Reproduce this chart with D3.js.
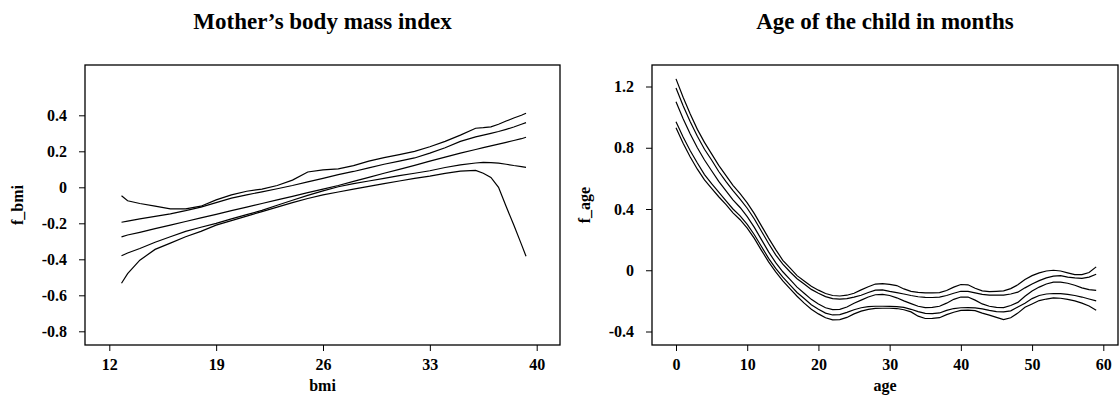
<!DOCTYPE html>
<html>
<head>
<meta charset="utf-8">
<script src="https://cdn.jsdelivr.net/npm/d3@7"></script>
<style>
  body { margin: 0; background: #fff; }
  svg text { font-family: "Liberation Serif", "Times New Roman", serif; font-weight: bold; fill: #000; }
</style>
</head>
<body>
<svg id="chart" width="1119" height="397"></svg>
<script>
// Left panel: mother's bmi (posterior mean with 80% and 95% bands)
const bmiGrid = [12.8, 13.2, 14, 15, 16, 17, 18, 19, 20, 21, 22, 23, 24, 25, 26, 27, 28, 29, 30, 31, 32, 33, 34, 35, 36, 36.5, 37, 37.5, 38, 38.5, 39, 39.3];
const bmiUpper95 = [-0.047, -0.075, -0.09, -0.105, -0.12, -0.12, -0.105, -0.07, -0.042, -0.022, -0.01, 0.01, 0.04, 0.085, 0.097, 0.102, 0.12, 0.145, 0.165, 0.182, 0.2, 0.225, 0.255, 0.29, 0.328, 0.331, 0.336, 0.35, 0.368, 0.385, 0.4, 0.411];
const bmiUpper80 = [-0.194, -0.188, -0.175, -0.162, -0.148, -0.13, -0.11, -0.085, -0.06, -0.042, -0.025, -0.008, 0.01, 0.03, 0.05, 0.07, 0.088, 0.108, 0.128, 0.145, 0.163, 0.19, 0.22, 0.255, 0.28, 0.29, 0.3, 0.31, 0.322, 0.335, 0.35, 0.359];
const bmiMean = [-0.275, -0.265, -0.25, -0.23, -0.21, -0.19, -0.17, -0.15, -0.13, -0.11, -0.09, -0.07, -0.05, -0.03, -0.01, 0.01, 0.033, 0.055, 0.078, 0.1, 0.122, 0.145, 0.168, 0.19, 0.21, 0.22, 0.23, 0.24, 0.25, 0.26, 0.27, 0.278];
const bmiLower80 = [-0.38, -0.365, -0.34, -0.305, -0.275, -0.245, -0.222, -0.2, -0.175, -0.152, -0.128, -0.1, -0.072, -0.045, -0.02, 0.003, 0.02, 0.035, 0.05, 0.065, 0.078, 0.092, 0.11, 0.125, 0.135, 0.138, 0.137, 0.134, 0.128, 0.121, 0.115, 0.111];
const bmiLower95 = [-0.533, -0.48, -0.405, -0.345, -0.31, -0.275, -0.245, -0.21, -0.185, -0.16, -0.135, -0.11, -0.085, -0.062, -0.042, -0.026, -0.01, 0.005, 0.02, 0.035, 0.05, 0.062, 0.077, 0.09, 0.094, 0.078, 0.055, 0.0, -0.107, -0.21, -0.317, -0.383];
const bmiTicks = [12, 19, 26, 33, 40];
const fbmiTicks = [0.4, 0.2, 0, -0.2, -0.4, -0.6, -0.8];

// Right panel: age of the child in months
const ageGrid = d3.range(0, 60);
const ageUpper95 = [1.25, 1.13, 1.02, 0.92, 0.835, 0.76, 0.685, 0.62, 0.555, 0.5, 0.44, 0.37, 0.29, 0.21, 0.135, 0.065, 0.015, -0.035, -0.07, -0.105, -0.13, -0.152, -0.165, -0.168, -0.163, -0.15, -0.128, -0.108, -0.09, -0.087, -0.092, -0.1, -0.122, -0.138, -0.145, -0.148, -0.148, -0.146, -0.132, -0.11, -0.093, -0.095, -0.118, -0.135, -0.14, -0.138, -0.135, -0.12, -0.095, -0.06, -0.035, -0.017, -0.005, 0.0, -0.005, -0.017, -0.028, -0.028, -0.015, 0.022];
const ageUpper80 = [1.19, 1.075, 0.97, 0.875, 0.79, 0.72, 0.645, 0.58, 0.52, 0.465, 0.405, 0.335, 0.255, 0.175, 0.1, 0.04, -0.01, -0.055, -0.09, -0.125, -0.15, -0.172, -0.185, -0.188, -0.185, -0.175, -0.163, -0.145, -0.13, -0.128, -0.138, -0.146, -0.155, -0.165, -0.173, -0.177, -0.178, -0.175, -0.165, -0.15, -0.137, -0.138, -0.148, -0.158, -0.163, -0.163, -0.163, -0.155, -0.143, -0.115, -0.09, -0.068, -0.05, -0.038, -0.035, -0.045, -0.05, -0.053, -0.045, -0.026];
const ageMean = [1.10, 0.99, 0.89, 0.80, 0.72, 0.65, 0.58, 0.52, 0.46, 0.41, 0.35, 0.28, 0.20, 0.12, 0.05, -0.01, -0.06, -0.11, -0.15, -0.19, -0.22, -0.245, -0.257, -0.255, -0.24, -0.215, -0.195, -0.175, -0.16, -0.157, -0.165, -0.18, -0.2, -0.218, -0.235, -0.244, -0.243, -0.235, -0.215, -0.19, -0.175, -0.175, -0.195, -0.22, -0.235, -0.243, -0.244, -0.23, -0.21, -0.17, -0.135, -0.11, -0.09, -0.078, -0.078, -0.085, -0.098, -0.115, -0.127, -0.131];
const ageLower80 = [0.97, 0.87, 0.78, 0.70, 0.625, 0.565, 0.51, 0.455, 0.40, 0.355, 0.30, 0.232, 0.155, 0.078, 0.012, -0.045, -0.095, -0.145, -0.185, -0.225, -0.255, -0.28, -0.292, -0.29, -0.275, -0.258, -0.245, -0.238, -0.235, -0.235, -0.236, -0.238, -0.243, -0.255, -0.27, -0.282, -0.283, -0.279, -0.262, -0.25, -0.245, -0.244, -0.246, -0.252, -0.262, -0.27, -0.272, -0.265, -0.24, -0.215, -0.185, -0.165, -0.155, -0.152, -0.153, -0.157, -0.165, -0.175, -0.188, -0.2];
const ageLower95 = [0.93, 0.83, 0.74, 0.66, 0.59, 0.535, 0.48, 0.43, 0.375, 0.33, 0.275, 0.208, 0.13, 0.055, -0.01, -0.07, -0.12, -0.17, -0.215, -0.255, -0.285, -0.31, -0.324, -0.322, -0.308, -0.285, -0.267, -0.255, -0.249, -0.248, -0.248, -0.25, -0.258, -0.272, -0.3, -0.315, -0.314, -0.31, -0.29, -0.274, -0.262, -0.26, -0.264, -0.28, -0.293, -0.308, -0.322, -0.31, -0.28, -0.242, -0.22, -0.198, -0.188, -0.181, -0.183, -0.19, -0.2, -0.215, -0.233, -0.261];
const ageTicks = [0, 10, 20, 30, 40, 50, 60];
const fageTicks = [1.2, 0.8, 0.4, 0, -0.4];

const serif = '"Liberation Serif", "Times New Roman", serif';
const svg = d3.select("#chart");

function fmt(v) {
    // R style labels: 0 instead of 0.0
    return v === 0 ? "0" : String(+v.toFixed(2));
}

function drawPanel(opts) {
    const g = svg.append("g");
    const x = d3.scaleLinear().domain(opts.xAnchor).range(opts.xPix);
    const y = d3.scaleLinear().domain(opts.yAnchor).range(opts.yPix);

    // frame
    g.append("rect")
        .attr("x", opts.box[0]).attr("y", opts.box[1])
        .attr("width", opts.box[2] - opts.box[0])
        .attr("height", opts.box[3] - opts.box[1])
        .attr("fill", "none").attr("stroke", "#000").attr("stroke-width", 1.3);

    const xa = g.append("g")
        .attr("transform", `translate(0,${opts.box[3]})`)
        .call(d3.axisBottom(x).tickValues(opts.xTicks).tickSize(6).tickPadding(8).tickFormat(fmt));
    const ya = g.append("g")
        .attr("transform", `translate(${opts.box[0]},0)`)
        .call(d3.axisLeft(y).tickValues(opts.yTicks).tickSize(6).tickPadding(12).tickFormat(fmt));
    [xa, ya].forEach(a => {
        a.attr("font-family", serif).attr("font-size", 16).attr("font-weight", "bold");
        a.select(".domain").remove();
        a.selectAll("line").attr("stroke", "#000").attr("stroke-width", 1);
        a.selectAll("text").attr("fill", "#000");
    });

    const line = d3.line()
        .x((d, i) => x(opts.grid[i]))
        .y(d => y(d));

    g.selectAll("path.curve")
        .data(opts.series)
        .enter()
        .append("path")
        .attr("class", "curve")
        .attr("d", line)
        .attr("fill", "none")
        .attr("stroke", "#000")
        .attr("stroke-width", 1.2);

    const cx = (opts.box[0] + opts.box[2]) / 2;
    g.append("text")
        .attr("x", cx).attr("y", 29)
        .attr("text-anchor", "middle")
        .attr("font-size", 23)
        .text(opts.title);
    g.append("text")
        .attr("x", cx).attr("y", 391)
        .attr("text-anchor", "middle")
        .attr("font-size", 16)
        .text(opts.xLabel);
    g.append("text")
        .attr("transform", `translate(${opts.box[0] - 62},${(opts.box[1] + opts.box[3]) / 2}) rotate(-90)`)
        .attr("text-anchor", "middle")
        .attr("font-size", 16)
        .text(opts.yLabel);
}

drawPanel({
    box: [85, 65, 560, 345],
    xAnchor: [12, 40], xPix: [109.3, 536.7],
    yAnchor: [0.4, -0.8], yPix: [115.3, 331.3],
    xTicks: bmiTicks, yTicks: fbmiTicks,
    grid: bmiGrid,
    series: [bmiUpper95, bmiUpper80, bmiMean, bmiLower80, bmiLower95],
    title: "Mother’s body mass index", xLabel: "bmi", yLabel: "f_bmi"
});

drawPanel({
    box: [652, 65, 1118, 345],
    xAnchor: [0, 60], xPix: [676, 1103.3],
    yAnchor: [1.2, -0.4], yPix: [86.5, 331.5],
    xTicks: ageTicks, yTicks: fageTicks,
    grid: ageGrid,
    series: [ageUpper95, ageUpper80, ageMean, ageLower80, ageLower95],
    title: "Age of the child in months", xLabel: "age", yLabel: "f_age"
});
</script>
</body>
</html>
